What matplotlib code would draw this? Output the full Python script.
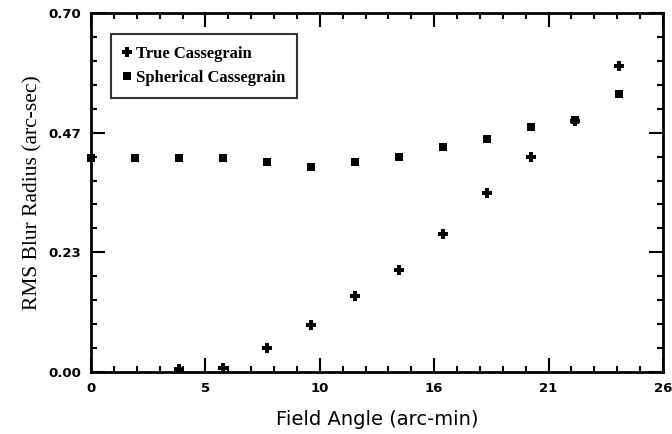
import numpy as np
import matplotlib
matplotlib.use('Agg')
import matplotlib.pyplot as plt
from matplotlib.ticker import FixedLocator, MultipleLocator

# Data
true_x = [4, 6, 8, 10, 12, 14, 16, 18, 20, 22, 24]
true_y = [0.005, 0.007, 0.047, 0.092, 0.148, 0.198, 0.269, 0.349, 0.419, 0.49, 0.597]

sph_x = [0, 2, 4, 6, 8, 10, 12, 14, 16, 18, 20, 22, 24]
sph_y = [0.418, 0.418, 0.418, 0.418, 0.409, 0.399, 0.409, 0.420, 0.438, 0.454, 0.478, 0.491, 0.542]

xticks = [0, 5.2, 10.4, 15.6, 20.8, 26]
xtick_labels = ['0', '5', '10', '16', '21', '26']
yticks = [0, 0.7 / 3, 1.4 / 3, 0.7]
ytick_labels = ['0.00', '0.23', '0.47', '0.70']

plt.rcParams['font.family'] = ['Liberation Serif', 'DejaVu Serif']

fig = plt.figure(figsize=(6.72, 4.34), dpi=100)
ax = fig.add_axes([0.1354, 0.1429, 0.8512, 0.8271])

ax.plot(true_x, true_y, linestyle='none', marker='P', markersize=6.5,
        color='black', markeredgewidth=0, label='True Cassegrain', zorder=2)
ax.plot(sph_x, sph_y, linestyle='none', marker='s', markersize=6,
        color='black', markeredgewidth=0, label='Spherical Cassegrain',
        zorder=3, clip_on=False)

ax.set_xlim(0, 26)
ax.set_ylim(0, 0.70)

ax.xaxis.set_major_locator(FixedLocator(xticks))
ax.set_xticklabels(xtick_labels)
ax.xaxis.set_minor_locator(MultipleLocator(26 / 25))
ax.yaxis.set_major_locator(FixedLocator(yticks))
ax.set_yticklabels(ytick_labels)
ax.yaxis.set_minor_locator(MultipleLocator(0.7 / 15))

ax.tick_params(which='both', direction='in', top=True, right=True, width=1.5)
ax.tick_params(which='major', length=10, labelsize=9.5, pad=7)
ax.tick_params(which='minor', length=4)
for lbl in ax.get_xticklabels() + ax.get_yticklabels():
    lbl.set_fontweight('bold')
    lbl.set_family('DejaVu Sans')

for s in ax.spines.values():
    s.set_linewidth(2)

ax.set_xlabel('Field Angle (arc-min)', fontsize=14, labelpad=11, family='DejaVu Sans')
ax.set_ylabel('RMS Blur Radius (arc-sec)', fontsize=15.5, labelpad=4)

leg = ax.legend(loc='upper left', bbox_to_anchor=(0.035, 0.941), borderaxespad=0,
                frameon=True, fancybox=False, edgecolor='black', handlelength=0.5,
                handletextpad=0.3, borderpad=0.7, labelspacing=0.5,
                prop={'size': 12, 'weight': 'bold'})
leg.get_frame().set_linewidth(1.5)

fig.savefig('out.png', dpi=100)
